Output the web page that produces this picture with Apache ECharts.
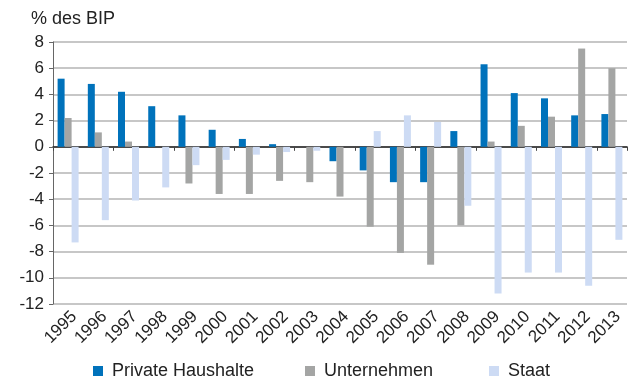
<!DOCTYPE html>
<html>
<head>
<meta charset="utf-8">
<script src="https://cdn.jsdelivr.net/npm/echarts@6/dist/echarts.min.js"></script>
<style>
  html, body { margin: 0; padding: 0; background: #fff; }
  #chart { width: 635px; height: 380px; }
</style>
</head>
<body>
<div id="chart"></div>
<script>
let chart = echarts.init(document.getElementById('chart'));

// Daten
const years = ['1995', '1996', '1997', '1998', '1999', '2000', '2001', '2002', '2003', '2004',
    '2005', '2006', '2007', '2008', '2009', '2010', '2011', '2012', '2013'];
const privateHaushalte = [5.2, 4.8, 4.2, 3.1, 2.4, 1.3, 0.6, 0.2, 0, -1.1,
    -1.8, -2.7, -2.7, 1.2, 6.3, 4.1, 3.7, 2.4, 2.5];
const unternehmen = [2.2, 1.1, 0.4, 0, -2.8, -3.6, -3.6, -2.6, -2.7, -3.8,
    -6.1, -8.1, -9.0, -6.0, 0.4, 1.6, 2.3, 7.5, 6.0];
const staat = [-7.3, -5.6, -4.1, -3.1, -1.4, -1.0, -0.6, -0.4, -0.3, 0,
    1.2, 2.4, 1.9, -4.5, -11.2, -9.6, -9.6, -10.6, -7.1];
const seriesNames = ['Private Haushalte', 'Unternehmen', 'Staat'];

const font = 'Liberation Sans, Arial, sans-serif';

// eine Legende pro Eintrag, damit die Abstände passen
let legendLeft = [93, 305, 489];
let legends = seriesNames.map((name, i) => ({
    top: 362,
    left: legendLeft[i],
    padding: 0,
    itemWidth: 10,
    itemHeight: 10,
    icon: 'rect',
    textStyle: {fontFamily: font, fontSize: 18, color: '#222', padding: [0, 0, 0, 4]},
    data: [name]
}));

let option = {
    animation: false,
    backgroundColor: '#fff',
    title: {
        text: '% des BIP',
        left: 26,
        top: 5,
        textStyle: {fontFamily: font, fontSize: 18, fontWeight: 'normal', color: '#222'}
    },
    grid: {left: 53, right: 8, top: 42, bottom: 76},
    legend: legends,
    xAxis: [
        {
            // Beschriftung unten
            type: 'category',
            data: years,
            position: 'bottom',
            axisLine: {show: false, onZero: false},
            axisTick: {show: false},
            axisLabel: {
                rotate: 45,
                margin: 4,
                interval: 0,
                verticalAlign: 'top',
                fontFamily: font,
                fontSize: 17,
                color: '#222'
            }
        },
        {
            // Nulllinie mit Ticks
            type: 'category',
            data: years,
            position: 'bottom',
            axisLine: {show: true, onZero: true, lineStyle: {color: '#222', width: 1.5}},
            axisTick: {show: true, length: 4, lineStyle: {color: '#444'}},
            axisLabel: {show: false}
        }
    ],
    yAxis: {
        type: 'value',
        min: -12,
        max: 8,
        interval: 2,
        axisLine: {show: true, lineStyle: {color: '#666'}},
        axisTick: {show: true, length: 4, lineStyle: {color: '#666'}},
        axisLabel: {fontFamily: font, fontSize: 17, color: '#222', margin: 9},
        splitLine: {lineStyle: {color: '#b4b4b4', width: 1.5}}
    },
    series: [
        {name: seriesNames[0], type: 'bar', data: privateHaushalte, barWidth: 7, barGap: '0%',
            itemStyle: {color: '#0072bb'}},
        {name: seriesNames[1], type: 'bar', data: unternehmen, barWidth: 7, barGap: '0%',
            itemStyle: {color: '#a4a5a4'}},
        {name: seriesNames[2], type: 'bar', data: staat, barWidth: 7, barGap: '0%',
            itemStyle: {color: '#cddbf4'}}
    ]
};

chart.setOption(option);
</script>
</body>
</html>
